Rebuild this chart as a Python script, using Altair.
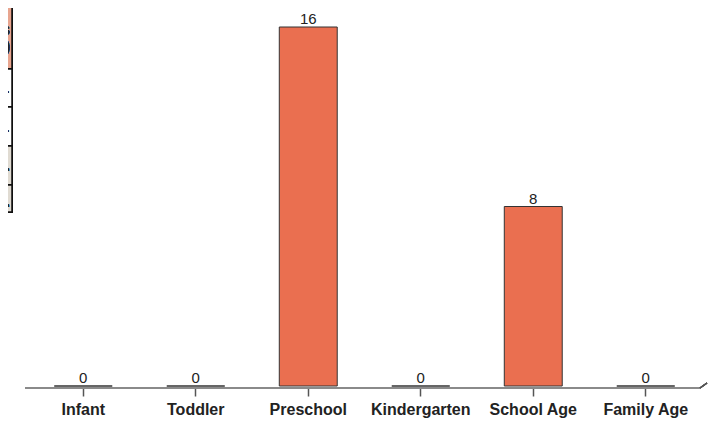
import altair as alt
import pandas as pd

categories = ["Infant", "Toddler", "Preschool", "Kindergarten", "School Age", "Family Age"]
counts = [0, 0, 16, 0, 8, 0]

df = pd.DataFrame({"category": categories, "count": counts})

W = 675
H = 359

x_enc = alt.X(
    "category:N",
    sort=categories,
    scale=alt.Scale(paddingInner=0.485, paddingOuter=0.2425),
    axis=alt.Axis(
        title=None,
        domain=False,
        ticks=True,
        tickColor="#555555",
        tickWidth=1.5,
        tickSize=8,
        offset=2,
        labelAngle=0,
        labelFont="Liberation Sans",
        labelFontWeight="bold",
        labelFontSize=16,
        labelColor="#222222",
        labelPadding=5,
        grid=False,
    ),
)
y_enc = alt.Y("count:Q", scale=alt.Scale(domain=[0, 16], nice=False, zero=True), axis=None)

bars = alt.Chart(df).mark_bar(color="#EA6F50", stroke="#333333", strokeWidth=1).encode(
    x=x_enc, y=y_enc
)
labels = alt.Chart(df).mark_text(
    baseline="bottom", dy=0, fontSize=15, font="Liberation Sans", color="#222222"
).encode(x=alt.X("category:N", sort=categories), y="count:Q", text="count:Q")

# custom axis line with small diagonal end
axis_line = alt.Chart(df).mark_rule(color="#8a8a8a", strokeWidth=2).encode(
    x=alt.value(-2), x2=alt.value(673), y=alt.value(361), y2=alt.value(361)
)
axis_end = alt.Chart(df).mark_rule(color="#555555", strokeWidth=1.2).encode(
    x=alt.value(673), x2=alt.value(680), y=alt.value(361), y2=alt.value(356)
)

# partially visible table at the left edge
table_layers = []
row_bounds = [(-30, 42, "#E8A58F"), (42, 80, "#FFFFFF"), (80, 119, "#FFFFFF"),
              (119, 158, "#E0DBD2"), (158, 185, "#E0DBD2")]
for y0, y1, fill in row_bounds:
    table_layers.append(
        alt.Chart(df).mark_rect(fill=fill, stroke="#111111", strokeWidth=1.5).encode(
            x=alt.value(-40), x2=alt.value(-15), y=alt.value(y0), y2=alt.value(y1)
        )
    )
table_texts = [("es", 3, "bold"), (")", 20, "bold"), ("l.", 61, "normal"),
               ("l.", 100, "normal"), ("l.", 139, "bold"), ("..", 175, "bold")]
for t, yy, fw in table_texts:
    table_layers.append(
        alt.Chart(df).mark_text(
            text=t, align="right", baseline="middle", fontSize=16,
            font="Liberation Sans", fontWeight=fw, color="#222222"
        ).encode(x=alt.value(-17), y=alt.value(yy))
    )

chart = alt.layer(axis_line, axis_end, bars, labels, *table_layers).properties(
    width=W, height=H,
    background="white",
    padding={"left": 19, "top": 19, "right": 12, "bottom": 34},
    autosize=alt.AutoSizeParams(type="none"),
).configure_view(stroke=None)

chart.save("out.html", embed_options={"renderer": "svg", "actions": False})
